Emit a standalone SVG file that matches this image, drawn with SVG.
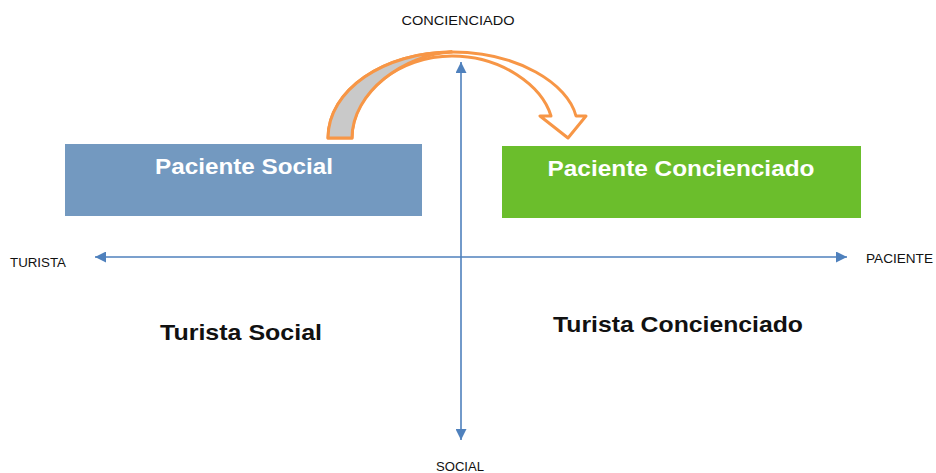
<svg xmlns="http://www.w3.org/2000/svg" width="936" height="473" viewBox="0 0 936 473">
<style>
.ax{stroke:#4F81BD;stroke-width:1.6;fill:none}
.lbl{font-family:"Liberation Sans",Arial,sans-serif;font-size:12px;fill:#111}
.big{font-family:"Liberation Sans",Arial,sans-serif;font-size:22px;font-weight:bold}
.w{fill:#fff}
.k{fill:#111}
</style>
<defs>
<marker id="ah" viewBox="0 0 10 10" refX="10" refY="5" markerWidth="14" markerHeight="11" markerUnits="userSpaceOnUse" orient="auto">
<path d="M0,0 L10,5 L0,10 Z" fill="#4F81BD"/>
</marker>
</defs>
<rect width="936" height="473" fill="#fff"/>
<g id="connectors">
<line class="ax" x1="461" y1="255" x2="461" y2="62" marker-end="url(#ah)"/>
<line class="ax" x1="461" y1="255" x2="461" y2="440" marker-end="url(#ah)"/>
<line class="ax" x1="461" y1="257" x2="95" y2="257" marker-end="url(#ah)"/>
<line class="ax" x1="461" y1="257" x2="847" y2="257" marker-end="url(#ah)"/>
</g>
<g id="curved-arrow">
<path d="M328,138 C328,90 384,52 452,52 C518,52 568,84 576,116 L586,116 L568,138 L540,116 L551,116 C542,86 502,56 452,56 C400,56 352,92 352,138 Z" fill="#fff" stroke="#F79646" stroke-width="3" stroke-linejoin="round"/>
<path d="M328,138 C328,90 384,52 452,52 C405,54 352,92 352,138 Z" fill="#C9C9C9" stroke="#F79646" stroke-width="3" stroke-linejoin="round"/>
</g>
<g id="paciente-social">
<rect x="65" y="144" width="357" height="72" fill="#7399C0"/>
<text class="big w" x="244" y="174" text-anchor="middle" textLength="178" lengthAdjust="spacingAndGlyphs">Paciente Social</text>
</g>
<g id="paciente-concienciado">
<rect x="502" y="146" width="359" height="72" fill="#6BBE2C"/>
<text class="big w" x="681" y="176" text-anchor="middle" textLength="267" lengthAdjust="spacingAndGlyphs">Paciente Concienciado</text>
</g>
<g id="turista-social">
<text class="big k" x="241" y="340" text-anchor="middle" textLength="162" lengthAdjust="spacingAndGlyphs">Turista Social</text>
</g>
<g id="turista-concienciado">
<text class="big k" x="678" y="332" text-anchor="middle" textLength="250" lengthAdjust="spacingAndGlyphs">Turista Concienciado</text>
</g>
<g id="labels">
<text class="lbl" x="458" y="25" text-anchor="middle" textLength="113" lengthAdjust="spacingAndGlyphs">CONCIENCIADO</text>
<text class="lbl" x="10" y="267" textLength="56" lengthAdjust="spacingAndGlyphs">TURISTA</text>
<text class="lbl" x="866" y="263" textLength="67" lengthAdjust="spacingAndGlyphs">PACIENTE</text>
<text class="lbl" x="460" y="471" text-anchor="middle" textLength="48" lengthAdjust="spacingAndGlyphs">SOCIAL</text>
</g>
</svg>
